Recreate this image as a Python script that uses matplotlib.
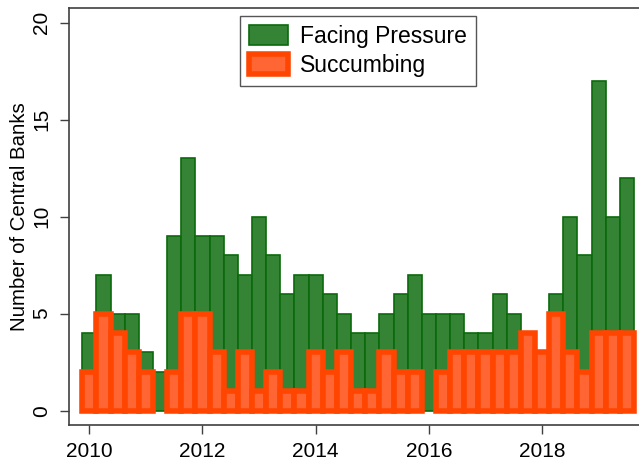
import matplotlib.pyplot as plt
import numpy as np

# quarterly data, 2010q1 .. 2019q3
quarters = [2010 + 0.25 * q for q in range(39)]

facing = [4, 7, 5, 5, 3, 2, 9, 13, 9, 9, 8, 7, 10, 8, 6, 7, 7, 6, 5, 4,
          4, 5, 6, 7, 5, 5, 5, 4, 4, 6, 5, 4, 3, 6, 10, 8, 17, 10, 12]

succumbing = [2, 5, 4, 3, 2, 0, 2, 5, 5, 3, 1, 3, 1, 2, 1, 1, 3, 2, 3, 1,
              1, 3, 2, 2, 0, 2, 3, 3, 3, 3, 3, 4, 3, 5, 3, 2, 4, 4, 4]

xticks = [2010, 2012, 2014, 2016, 2018]
yticks = [0, 5, 10, 15, 20]

plt.rcParams['font.family'] = ['Liberation Sans', 'DejaVu Sans']

fig = plt.figure(figsize=(6.39, 4.61), dpi=100)
ax = fig.add_axes([0.1072, 0.0781, 0.8928, 0.9035])

x = np.array(quarters)
f = np.array(facing)
s = np.array(succumbing)

ax.bar(x, f, width=0.25, color='#358335', edgecolor='#0b6a0b',
       linewidth=1.2, label='Facing Pressure', zorder=2)

# skip empty quarters, otherwise the thick edge draws a line at zero
mask = s > 0
ax.bar(x[mask], s[mask], width=0.25, color='#ff6633', edgecolor='#ff4500',
       linewidth=4, label='Succumbing', zorder=3)

ax.set_xlim(2009.633, 2019.712)
ax.set_ylim(-0.737, 20.73)
ax.set_xticks(xticks)
ax.set_yticks(yticks)
ax.set_xticklabels([str(t) for t in xticks], fontsize=15)
ax.set_yticklabels([str(t) for t in yticks], fontsize=15, rotation=90, va='center')
ax.tick_params(axis='both', length=6.5, width=1, color='#404040', pad=6)
ax.tick_params(axis='x', pad=6)

ax.spines['right'].set_visible(False)
for sp in ['left', 'bottom', 'top']:
    ax.spines[sp].set_color('#404040')
    ax.spines[sp].set_linewidth(1.2)

ax.set_ylabel('Number of Central Banks', fontsize=14.7, labelpad=2)

leg = ax.legend(loc='upper left', bbox_to_anchor=(240 / 639, 1 - 15.7 / 461),
                bbox_transform=fig.transFigure, fontsize=16.5, borderaxespad=0,
                handlelength=1.7, handleheight=0.95, handletextpad=0.5,
                labelspacing=0.25, borderpad=0.4, fancybox=False, framealpha=1)
leg.get_frame().set_edgecolor('#555555')
leg.get_frame().set_linewidth(1)
leg.set_zorder(5)

fig.savefig('out.png', dpi=100)
